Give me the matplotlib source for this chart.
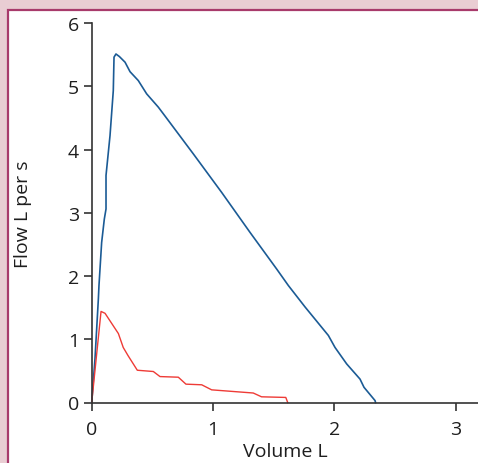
## Flow-volume loops: normal vs obstructed expiration
import matplotlib
matplotlib.use("Agg")
import matplotlib.pyplot as plt
from matplotlib.patches import Rectangle

plt.rcParams['font.family'] = ['Open Sans', 'DejaVu Sans']

## Normal curve (blue)
normalVolume = [0.0, 0.027, 0.055, 0.06, 0.082, 0.104, 0.118, 0.118, 0.151, 0.178, 0.184,
                0.2, 0.228, 0.275, 0.316, 0.384, 0.453, 0.549, 0.604, 0.838, 1.072,
                1.305, 1.525, 1.621, 1.759, 1.951, 2.006, 2.102, 2.212, 2.245, 2.336, 2.34]
normalFlow = [0.0, 0.69, 1.64, 1.85, 2.53, 2.90, 3.06, 3.59, 4.22, 4.93, 5.46,
              5.51, 5.47, 5.38, 5.23, 5.09, 4.88, 4.67, 4.53, 3.93, 3.32,
              2.69, 2.11, 1.85, 1.51, 1.06, 0.87, 0.61, 0.37, 0.24, 0.03, 0.0]

## Obstructed curve (red)
obstructedVolume = [0.0, 0.077, 0.11, 0.165, 0.22, 0.26, 0.30, 0.376, 0.508, 0.563,
                    0.714, 0.777, 0.907, 0.989, 1.332, 1.40, 1.60, 1.616]
obstructedFlow = [0.0, 1.44, 1.41, 1.25, 1.09, 0.87, 0.74, 0.51, 0.49, 0.41,
                  0.40, 0.29, 0.28, 0.20, 0.15, 0.09, 0.08, 0.0]

xTicks = [0, 1, 2, 3]
yTicks = [0, 1, 2, 3, 4, 5, 6]

fig = plt.figure(figsize=(4.78, 4.64), dpi=100)
fig.patch.set_facecolor("#e9cdd3")
## White panel with a magenta edge, running off the right and bottom
fig.patches.append(Rectangle((7.5 / 478, -0.1), 1.2, 1.1 - 10.5 / 464,
                             transform=fig.transFigure, facecolor="white",
                             edgecolor="#a83a6b", linewidth=1.6, zorder=-10))

ax = fig.add_axes([91.7 / 478, 1 - 403.5 / 464, 1 - 91.7 / 478, (403.5 - 24) / 464])
ax.set_zorder(5)
ax.patch.set_alpha(0)

ax.plot(normalVolume, normalFlow, color="#1b5b95", linewidth=1.2, clip_on=False)
ax.plot(obstructedVolume, obstructedFlow, color="#ee3b36", linewidth=1.0, clip_on=False)

ax.set_xlim(0, 386.3 / 121.3)
ax.set_ylim(0, 6)
ax.set_xticks(xTicks)
ax.set_yticks(yTicks)
for side in ["top", "right"]:
    ax.spines[side].set_visible(False)
for side in ["left", "bottom"]:
    ax.spines[side].set_color("#333333")
    ax.spines[side].set_linewidth(1.2)
ax.tick_params(length=6, width=1.2, color="#333333", labelsize=14, labelcolor="#1e1e1e")
ax.tick_params(axis="x", pad=6.5)
ax.tick_params(axis="y", pad=3)

ax.set_xlabel("Volume L", fontsize=14, color="#1e1e1e")
ax.set_ylabel("Flow L per s", fontsize=14, color="#1e1e1e")
ax.xaxis.set_label_coords(0.5, -0.103)
ax.yaxis.set_label_coords(-0.155, 0.5)

plt.savefig("out.png", dpi=100, facecolor=fig.get_facecolor())
